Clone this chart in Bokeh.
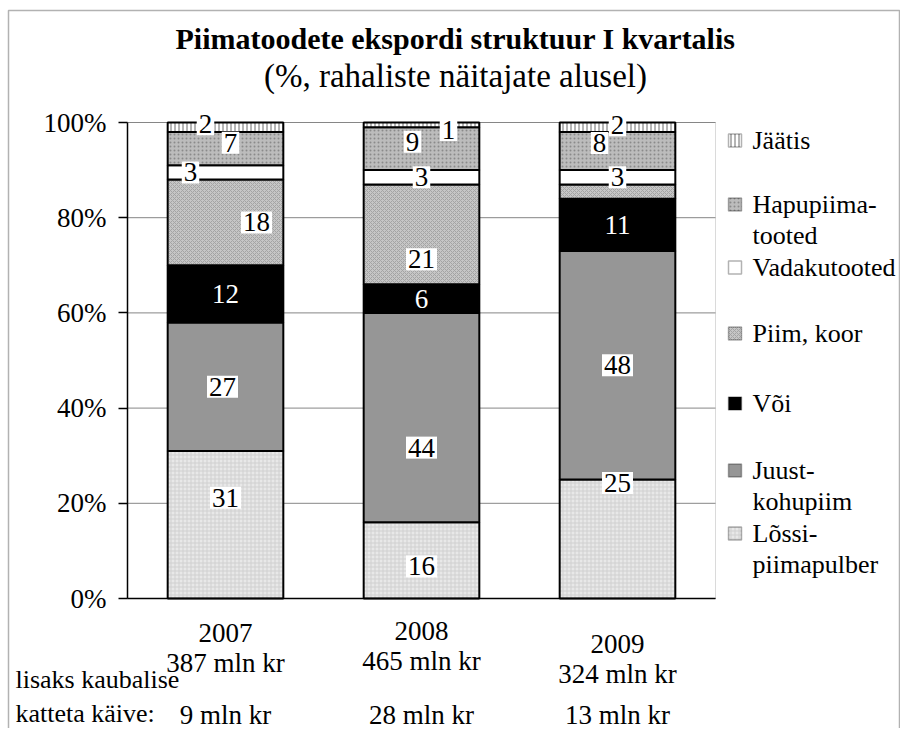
from bokeh.plotting import figure
from bokeh.models import (ColumnDataSource, LabelSet, Label, BoxAnnotation, Range1d,
                          FixedTicker, PrintfTickFormatter)
from bokeh.core.properties import value
from bokeh.embed import file_html
from bokeh.resources import INLINE

# ---------------- data ----------------
years = ["2007", "2008", "2009"]
turnover = ["387 mln kr", "465 mln kr", "324 mln kr"]
extra_turnover = ["9 mln kr", "28 mln kr", "13 mln kr"]
categories = ["Lõssipiimapulber", "Juust-kohupiim", "Või", "Piim, koor",
              "Vadakutooted", "Hapupiimatooted", "Jäätis"]
legend_labels = ["Lõssi-\npiimapulber", "Juust-\nkohupiim", "Või", "Piim, koor",
                 "Vadakutooted", "Hapupiima-\ntooted", "Jäätis"]
lossipiimapulber = [31, 16, 25]
juust_kohupiim = [27, 44, 48]
voi = [12, 6, 11]
piim_koor = [18, 21, 3]
vadakutooted = [3, 3, 3]
hapupiimatooted = [7, 9, 8]
jaatis = [2, 1, 2]
yticks = [0, 20, 40, 60, 80, 100]
extra_note = ["lisaks kaubalise", "katteta käive:"]
title_text = "Piimatoodete ekspordi struktuur I kvartalis"
subtitle_text = "(%, rahaliste näitajate alusel)"

series = [lossipiimapulber, juust_kohupiim, voi, piim_koor, vadakutooted, hapupiimatooted, jaatis]

# ---------------- layout / styles ----------------
FONT = "Liberation Serif"
W, H = 900, 728
FL, FR, FT, FB = 127, 715, 122, 598          # plot area in page px
NCAT = len(years)
UX = (FR - FL) / NCAT
UY = (FB - FT) / 100.0


def px2x(px):
    return (px - FL) / UX


def py2y(py):
    return (FB - py) / UY


fills = ["#e8e8e8", "#969696", "#000000", "#c6c6c6", "#ffffff", "#bcbcbc", "#ffffff"]
hatches = ["+", None, None, "x", None, ".", "|"]
hatch_cols = ["#d0d0d0", None, None, "#a4a4a4", None, "#8a8a8a", "#6a6a6a"]
label_dx = [[0, 0, 0], [-3, 0, 0], [0, 0, 0], [31, 0, 0], [-35, 0, 0], [5, -9, -18], [-20, 27, 0]]
label_dy = [[27, -6, 56], [0, -30, 0], [0, 0, 0], [0, -25, 0], [0, 0, 0], [6, 7, 8], [3, -5, 2]]
hidden = {(3, 2)}
legend_y_px = [533, 470, 403, 333, 267, 204, 140]
HAS_PAD = "padding" in Label.properties()

xpos = [i + 0.5 for i in range(NCAT)]
data = {"x": xpos, "year": years}
for c, s in zip(categories, series):
    data[c] = s
src = ColumnDataSource(data)

p = figure(x_range=Range1d(px2x(0), px2x(W)), y_range=Range1d(py2y(H), py2y(0)),
           width=W, height=H, output_backend="svg", toolbar_location=None,
           min_border=0, min_border_left=0, min_border_right=0,
           min_border_top=0, min_border_bottom=0)
p.background_fill_color = "white"
p.border_fill_color = "white"
p.outline_line_color = None
p.xgrid.visible = False
p.ygrid.visible = False

# gridlines (plot area only)
p.segment(x0=[0] * len(yticks), x1=[NCAT] * len(yticks), y0=yticks, y1=yticks,
          line_color="#868686", line_width=1)
p.add_layout(BoxAnnotation(left=0, right=NCAT, bottom=0, top=100, fill_alpha=0,
                           line_color="#868686", line_width=1, level="underlay"))

p.vbar_stack(categories, x="x", width=0.59, source=src,
             fill_color=fills, line_color="black", line_width=2,
             hatch_pattern=hatches, hatch_color=[h or "black" for h in hatch_cols],
             hatch_scale=4, hatch_weight=1)

# axes drawn at fixed locations inside the canvas
p.yaxis.fixed_location = 0
p.yaxis.bounds = (0, 100)
p.yaxis.ticker = FixedTicker(ticks=yticks)
p.yaxis.formatter = PrintfTickFormatter(format="%d%%")
p.yaxis.major_label_text_font = FONT
p.yaxis.major_label_text_font_size = "27px"
p.yaxis.major_label_text_color = "black"
p.yaxis.major_tick_out = 9
p.yaxis.major_tick_in = 0
p.yaxis.minor_tick_line_color = None
p.yaxis.axis_line_color = "black"
p.yaxis.axis_line_width = 1.5
p.yaxis.major_tick_line_width = 1.5
p.yaxis.major_label_standoff = 12

p.xaxis.fixed_location = 0
p.xaxis.bounds = (0, NCAT)
p.xaxis.ticker = FixedTicker(ticks=xpos)
p.xaxis.major_label_text_color = None
p.xaxis.major_tick_line_color = None
p.xaxis.minor_tick_line_color = None
p.xaxis.axis_line_color = "black"
p.xaxis.axis_line_width = 1.5

# data labels
for i, s in enumerate(series):
    for j, yv in enumerate(s):
        if (i, j) in hidden:
            continue
        base = sum(series[k][j] for k in range(i))
        dark = fills[i] == "#000000"
        kw = dict(x=xpos[j], y=base + yv / 2.0, text=str(yv),
                  x_offset=label_dx[i][j], y_offset=label_dy[i][j],
                  text_font=FONT, text_font_size="27px",
                  text_color="white" if dark else "black",
                  text_align="center", text_baseline="middle",
                  background_fill_color=None if dark else "white")
        if HAS_PAD:
            kw["padding"] = 2
        p.add_layout(Label(**kw))

# texts under the axis
bottom = ColumnDataSource({"x": xpos, "y": [0] * NCAT, "year": years, "turn": turnover,
                           "extra": extra_turnover,
                           "dy1": [-34, -32, -45], "dy2": [-64, -62, -75], "dy3": [-116, -116, -116]})
for col, dy in (("year", "dy1"), ("turn", "dy2"), ("extra", "dy3")):
    p.add_layout(LabelSet(x="x", y="y", text=col, y_offset=dy, source=bottom,
                          text_font=value(FONT), text_font_size="27px", text_color="black",
                          text_align="center", text_baseline="middle"))
for k, t in enumerate(extra_note):
    p.add_layout(Label(x=px2x(15), y=0, y_offset=[-81, -115][k], text=t,
                       text_font=FONT, text_font_size="26px", text_color="black",
                       text_align="left", text_baseline="middle"))

# title
p.add_layout(Label(x=px2x(455), y=py2y(38), text=title_text,
                   text_font=FONT, text_font_size="30px", text_font_style="bold",
                   text_color="black", text_align="center", text_baseline="middle"))
p.add_layout(Label(x=px2x(455), y=py2y(75), text=subtitle_text,
                   text_font=FONT, text_font_size="33px",
                   text_color="black", text_align="center", text_baseline="middle"))

# legend
for i, lbl in enumerate(legend_labels):
    yc = legend_y_px[i]
    p.add_layout(BoxAnnotation(left=px2x(728), right=px2x(741),
                               top=py2y(yc - 6.5), bottom=py2y(yc + 6.5),
                               fill_color=fills[i], fill_alpha=1, line_color="black", line_width=1.5,
                               hatch_pattern=hatches[i], hatch_color=hatch_cols[i] or "black",
                               hatch_scale=4, hatch_weight=1))
    for k, line in enumerate(lbl.split("\n")):
        p.add_layout(Label(x=px2x(752), y=py2y(yc + 31 * k), text=line,
                           text_font=FONT, text_font_size="26px", text_color="black",
                           text_align="left", text_baseline="middle"))

# outer frame
p.add_layout(BoxAnnotation(left=px2x(8), right=px2x(899), top=py2y(10), bottom=py2y(760),
                           fill_alpha=0, line_color="black", line_width=1.5))

open("out.html", "w").write(file_html(p, INLINE))
